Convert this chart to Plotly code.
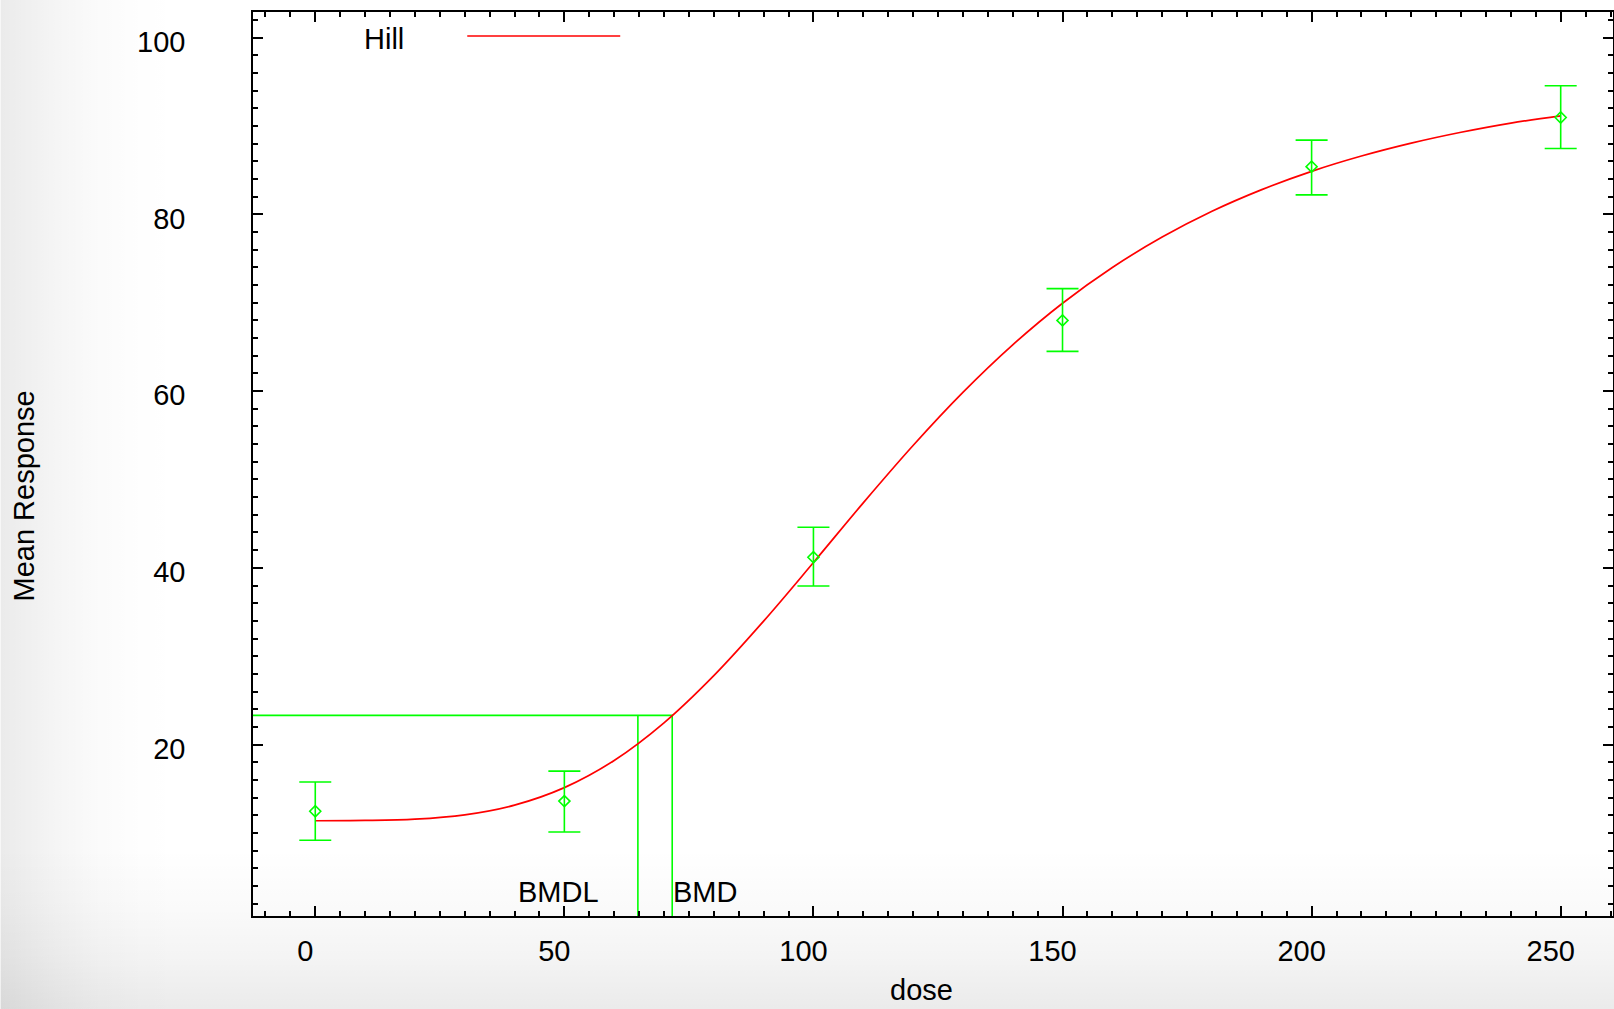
import base64
import plotly.graph_objects as go

# ---- observed dose groups: mean response with error bar limits ----
doses = [0, 50, 100, 150, 200, 250]
mean_response = [12.45, 13.6, 41.2, 68.0, 85.4, 90.96]
err_upper = [15.77, 17.0, 44.6, 71.6, 88.4, 94.55]
err_lower = [9.17, 10.1, 37.95, 64.5, 82.2, 87.46]

# ---- fitted Hill model curve, tabulated by dose ----
curve_dose = [0, 10, 20, 30, 40, 50, 60, 70, 80, 90, 100, 110, 120, 130,
              140, 150, 160, 170, 180, 190, 200, 210, 220, 230, 240, 250]
curve_resp = [11.38, 11.41, 11.56, 12.05, 13.15, 15.13, 18.20, 22.46, 27.80,
              33.97, 40.60, 47.35, 53.84, 59.85, 65.23, 69.94, 73.99, 77.43,
              80.35, 82.80, 84.87, 86.60, 88.06, 89.29, 90.33, 91.15]

# ---- benchmark dose results ----
bmd = 71.65
bmdl = 64.76
bmr_response = 23.3

x_range = [-12.5, 260.5]
y_range = [0.6, 102.9]

W, H = 1614, 1009
PL, PR, PT, PB = 252.7, 1613.0, 12.0, 915.7   # plot box in pixels

GREEN = "#00ff00"
RED = "#ff0000"
FONT = "Liberation Sans, Arial, Helvetica, sans-serif"
FS = 29


def px_x(px):
    return (px - PL) / (PR - PL)


def px_y(py):
    return (PB - py) / (PB - PT)


err_plus = [u - m for u, m in zip(err_upper, mean_response)]
err_minus = [m - l for m, l in zip(mean_response, err_lower)]

fig = go.Figure()

# benchmark response guide lines
fig.add_trace(go.Scatter(
    x=[x_range[0], bmd, bmd], y=[bmr_response, bmr_response, y_range[0]],
    mode="lines", line=dict(color=GREEN, width=1.6), hoverinfo="skip",
    showlegend=False, cliponaxis=False))
fig.add_trace(go.Scatter(
    x=[bmdl, bmdl], y=[bmr_response, y_range[0]],
    mode="lines", line=dict(color=GREEN, width=1.6), hoverinfo="skip",
    showlegend=False))

# fitted model
fig.add_trace(go.Scatter(
    x=curve_dose, y=curve_resp, mode="lines", name="Hill",
    line=dict(color=RED, width=1.7, shape="spline", smoothing=1.0),
    showlegend=False))

# group means with error bars
fig.add_trace(go.Scatter(
    x=doses, y=mean_response, mode="markers",
    marker=dict(symbol="diamond-open", size=8.5, color=GREEN,
                line=dict(color=GREEN, width=1.6)),
    error_y=dict(type="data", symmetric=False, array=err_plus,
                 arrayminus=err_minus, color=GREEN, thickness=1.6, width=16),
    showlegend=False))

# soft grey vignette along the left and bottom edges of the page
svg = f"""<svg xmlns='http://www.w3.org/2000/svg' width='{W}' height='{H}' viewBox='0 0 {W} {H}' preserveAspectRatio='none'>
<defs>
<linearGradient id='gl' x1='0' y1='0' x2='1' y2='0'>
<stop offset='0' stop-color='#000' stop-opacity='0.08'/>
<stop offset='0.015' stop-color='#000' stop-opacity='0.062'/>
<stop offset='0.035' stop-color='#000' stop-opacity='0.04'/>
<stop offset='0.06' stop-color='#000' stop-opacity='0.018'/>
<stop offset='0.085' stop-color='#000' stop-opacity='0.006'/>
<stop offset='0.11' stop-color='#000' stop-opacity='0.0'/>
</linearGradient>
<linearGradient id='gb' x1='0' y1='0' x2='0' y2='1'>
<stop offset='0.84' stop-color='#000' stop-opacity='0'/>
<stop offset='0.9' stop-color='#000' stop-opacity='0.02'/>
<stop offset='0.95' stop-color='#000' stop-opacity='0.045'/>
<stop offset='1' stop-color='#000' stop-opacity='0.08'/>
</linearGradient>
</defs>
<rect width='{W}' height='{H}' fill='#ffffff'/>
<rect width='{W}' height='{H}' fill='url(#gl)'/>
<rect width='{W}' height='{H}' fill='url(#gb)'/>
</svg>"""
bg_src = "data:image/svg+xml;base64," + base64.b64encode(svg.encode()).decode()

axis_common = dict(
    showline=True, linecolor="black", linewidth=1.6, mirror="allticks",
    ticks="inside", tickcolor="black", tickwidth=1.5, ticklen=10,
    showgrid=False, zeroline=False, automargin=False,
    tickfont=dict(family=FONT, size=FS, color="black"),
)

fig.update_layout(
    width=W, height=H,
    margin=dict(l=PL, r=W - PR, t=PT, b=H - PB, pad=0),
    paper_bgcolor="white",
    plot_bgcolor="rgba(0,0,0,0)",
    font=dict(family=FONT, size=FS, color="black"),
    xaxis=dict(
        range=x_range, tick0=0, dtick=50, **axis_common,
        ticklabelstandoff=8, ticklabelshift=-10,
        minor=dict(dtick=5, tick0=0, ticks="inside", ticklen=5,
                   tickcolor="black", tickwidth=1.5, showgrid=False),
    ),
    yaxis=dict(
        range=y_range, tick0=0, dtick=20, **axis_common,
        ticklabelstandoff=60, ticklabelshift=4,
        minor=dict(dtick=2, tick0=0, ticks="inside", ticklen=5,
                   tickcolor="black", tickwidth=1.5, showgrid=False),
    ),
    images=[dict(
        source=bg_src, xref="paper", yref="paper",
        x=px_x(0), y=px_y(0), sizex=W / (PR - PL), sizey=H / (PB - PT),
        xanchor="left", yanchor="top", sizing="stretch", layer="below",
    )],
    shapes=[dict(
        type="line", xref="paper", yref="paper",
        x0=px_x(467), x1=px_x(620), y0=px_y(36), y1=px_y(36),
        line=dict(color=RED, width=1.6),
    )],
    annotations=[
        dict(text="Hill", xref="paper", yref="paper", x=px_x(362), y=px_y(39),
             xanchor="left", yanchor="middle", showarrow=False,
             font=dict(size=FS)),
        dict(text="BMDL", xref="x", yref="paper", x=bmdl - 24.4, y=px_y(892),
             xanchor="left", yanchor="middle", showarrow=False,
             font=dict(size=FS)),
        dict(text="BMD", xref="x", yref="paper", x=bmd - 0.2, y=px_y(892),
             xanchor="left", yanchor="middle", showarrow=False,
             font=dict(size=FS)),
        dict(text="dose", xref="paper", yref="paper", x=px_x(921), y=px_y(990),
             xanchor="center", yanchor="middle", showarrow=False,
             font=dict(size=FS)),
        dict(text="Mean Response", xref="paper", yref="paper", x=px_x(24),
             y=px_y(496), xanchor="center", yanchor="middle", textangle=-90,
             showarrow=False, font=dict(size=FS)),
    ],
)

fig.write_html("out.html")
